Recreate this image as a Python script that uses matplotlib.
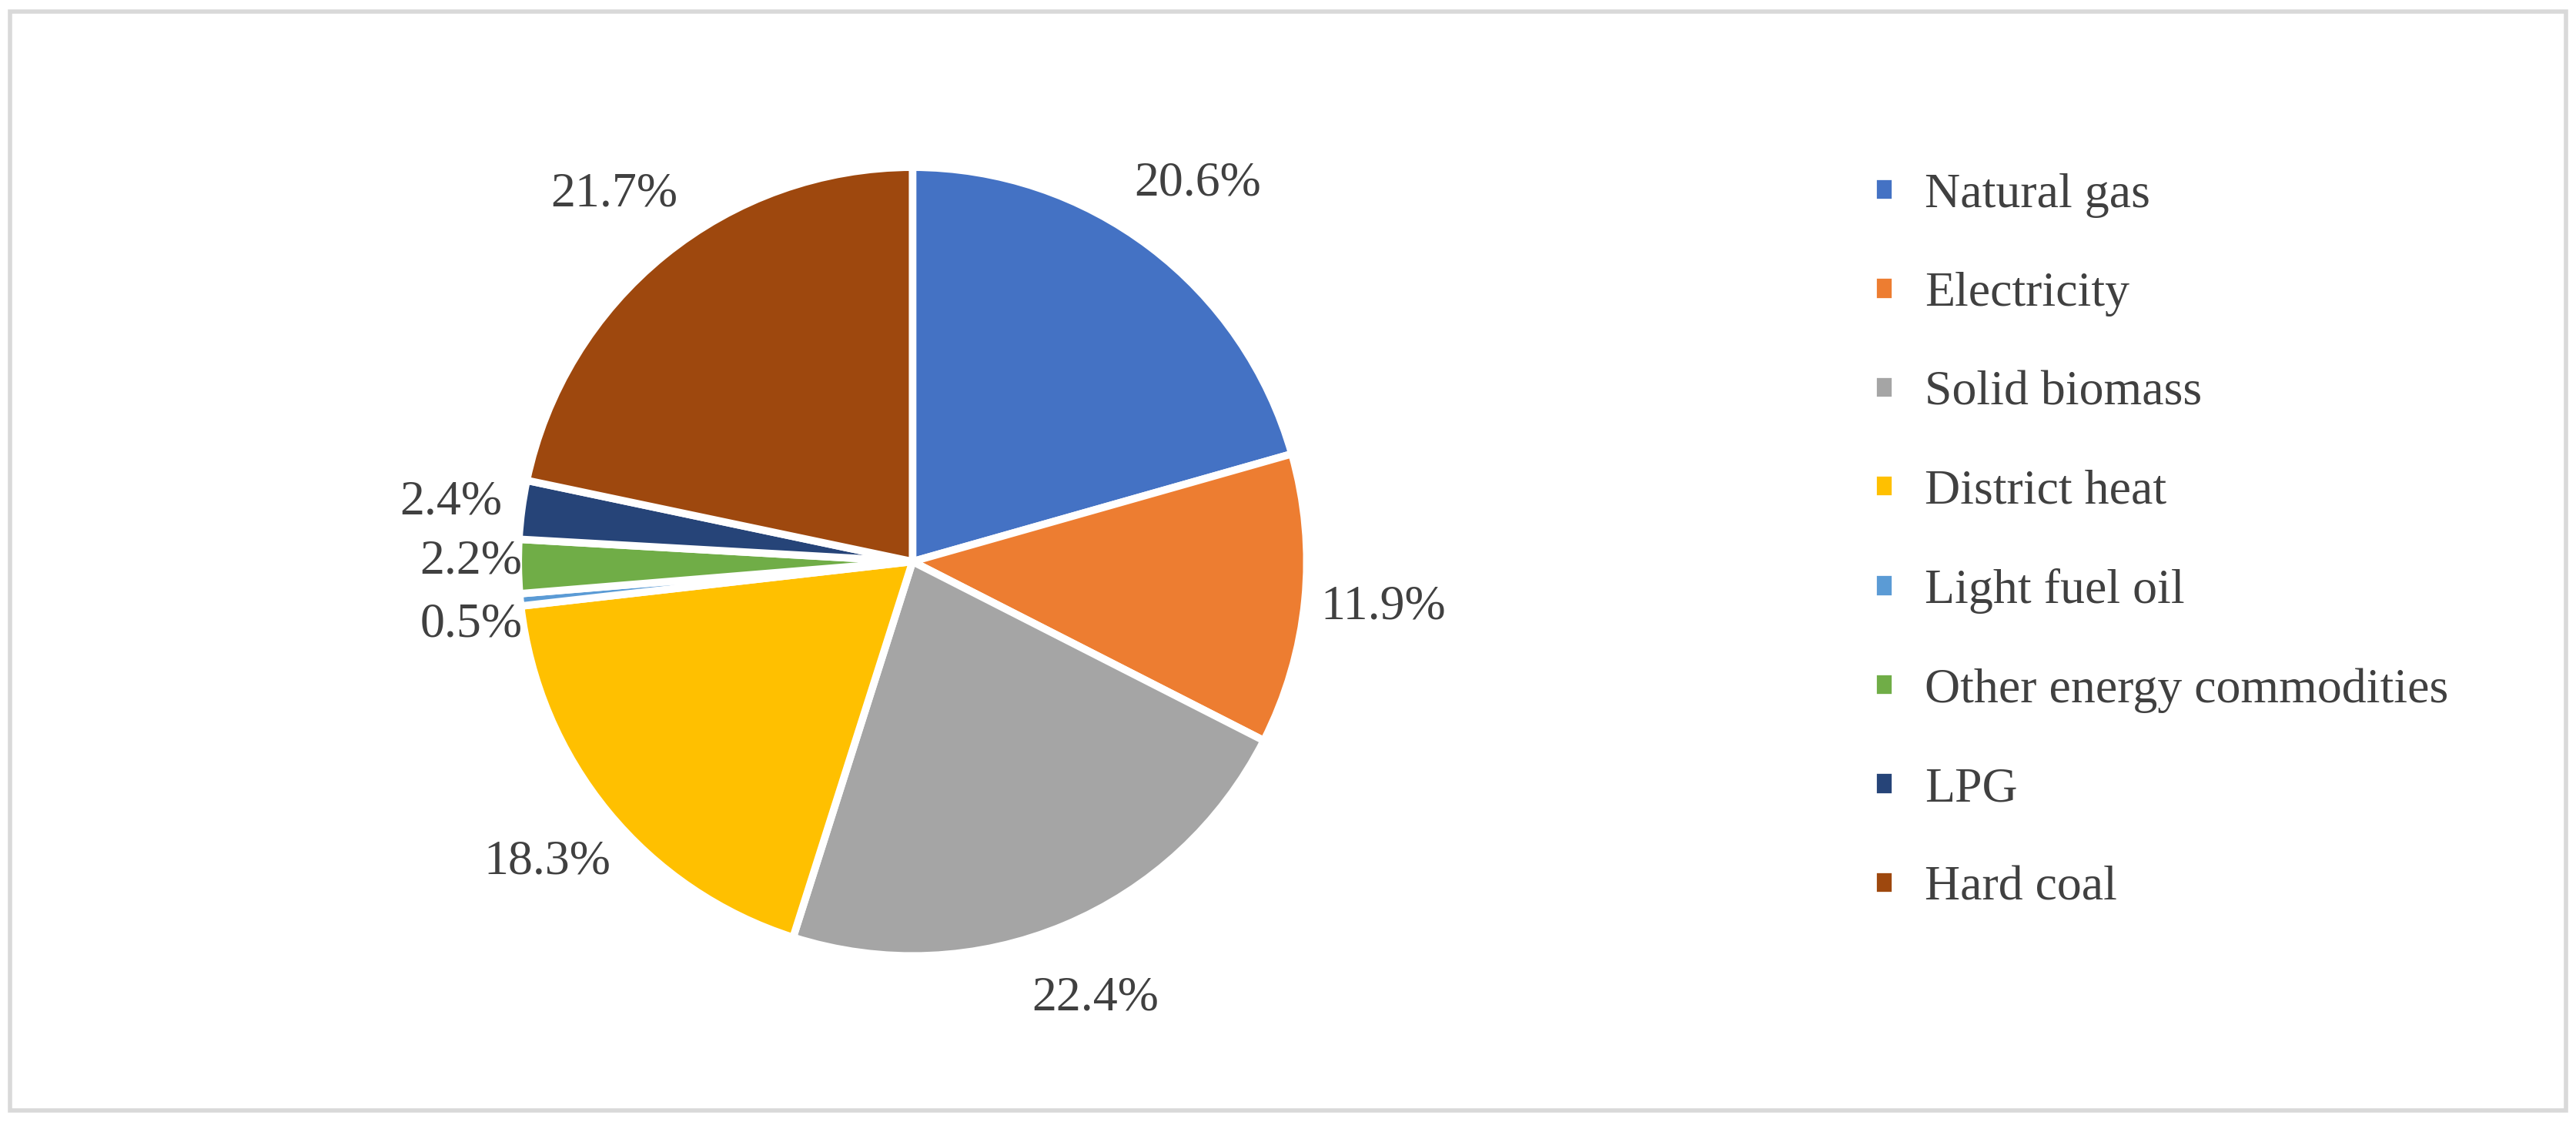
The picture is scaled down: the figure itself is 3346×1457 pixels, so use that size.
import matplotlib.pyplot as plt
from matplotlib.patches import Rectangle

labels = ['Natural gas', 'Electricity', 'Solid biomass', 'District heat',
          'Light fuel oil', 'Other energy commodities', 'LPG', 'Hard coal']
shares = [20.6, 11.9, 22.4, 18.3, 0.5, 2.2, 2.4, 21.7]
colors = ['#4472C4', '#ED7D31', '#A5A5A5', '#FFC000',
          '#5B9BD5', '#70AD47', '#264478', '#9E480E']

plt.rcParams['font.family'] = ['Liberation Serif', 'DejaVu Serif']

fig = plt.figure(figsize=(33.46, 14.57), dpi=100)
fig.patches.append(Rectangle((0.004, 0.01), 0.992, 0.98, transform=fig.transFigure,
                             fill=False, edgecolor='#D9D9D9', linewidth=4))

ax = fig.add_axes([0.198, 0.141, 0.3125, 0.717])
wedges, texts, autotexts = ax.pie(
    shares, colors=colors, startangle=90, counterclock=False,
    autopct='%.1f%%', pctdistance=1.2,
    wedgeprops=dict(edgecolor='white', linewidth=7),
    textprops=dict(fontsize=46, color='#404040'))
ax.set_aspect('equal')
ax.set_xlim(-1.02, 1.02)
ax.set_ylim(-1.02, 1.02)

# nudge crowded small-slice labels
autotexts[4].set_position((-1.12, -0.16))
autotexts[5].set_position((-1.12, 0.0))
autotexts[6].set_position((-1.17, 0.15))

fig.legend(wedges, labels, loc='upper left', bbox_to_anchor=(0.71, 0.885),
           frameon=False, fontsize=46, labelcolor='#404040',
           handlelength=0.45, handleheight=0.45, handletextpad=0.6,
           labelspacing=1.1)

fig.savefig('out.png', dpi=100)
